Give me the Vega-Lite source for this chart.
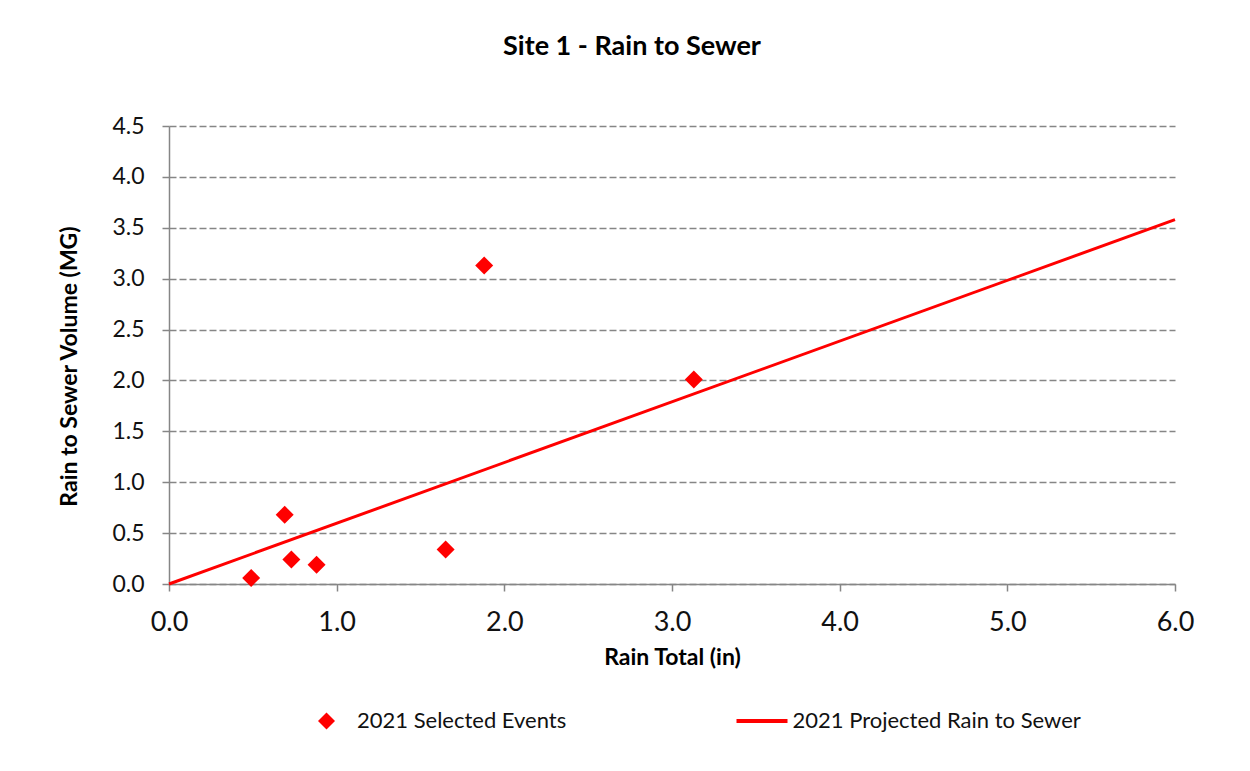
{
  "$schema": "https://vega.github.io/schema/vega-lite/v6.json",
  "width": 1006,
  "height": 458,
  "autosize": {"type": "none"},
  "padding": {"left": 169, "top": 126, "right": 75, "bottom": 187},
  "background": "white",
  "title": {
    "text": "Site 1 - Rain to Sewer",
    "font": "Lato",
    "fontSize": 27,
    "fontWeight": "bold",
    "color": "#000000",
    "anchor": "middle",
    "dx": -40,
    "offset": 54
  },
  "config": {
    "view": {"stroke": null},
    "font": "Lato",
    "axis": {
      "domainColor": "#868686",
      "domainWidth": 1.5,
      "tickColor": "#868686",
      "tickWidth": 1.5,
      "tickSize": 7,
      "labelColor": "#111111",
      "titleColor": "#000000",
      "labelFont": "Lato",
      "titleFont": "Lato",
      "titleFontWeight": "bold"
    }
  },
  "layer": [
    {
      "data": {
        "values": [
          {"rain": 0.0, "volume": 0.0},
          {"rain": 6.0, "volume": 3.58}
        ]
      },
      "mark": {"type": "line", "color": "#ff0000", "strokeWidth": 3, "clip": false},
      "encoding": {
        "x": {
          "field": "rain",
          "type": "quantitative",
          "scale": {"domain": [0, 6], "nice": false, "zero": true},
          "axis": {
            "title": "Rain Total (in)",
            "values": [0, 1, 2, 3, 4, 5, 6],
            "format": ".1f",
            "grid": false,
            "labelFlush": false,
            "labelFontSize": 27,
            "labelPadding": 18,
            "titleFontSize": 23,
            "titlePadding": 11
          }
        },
        "y": {
          "field": "volume",
          "type": "quantitative",
          "scale": {"domain": [0, 4.5], "nice": false},
          "axis": {
            "title": "Rain to Sewer Volume (MG)",
            "values": [0, 0.5, 1, 1.5, 2, 2.5, 3, 3.5, 4, 4.5],
            "format": ".1f",
            "grid": true,
            "gridColor": "#868686",
            "gridDash": [7, 3],
            "gridWidth": 1.5,
            "labelFontSize": 23,
            "labelPadding": 18,
            "titleFontSize": 23,
            "titleX": -100,
            "titleY": 240,
            "titleBaseline": "middle"
          }
        }
      }
    },
    {
      "data": {
        "values": [
          {"rain": 0.49, "volume": 0.06, "series": "2021 Selected Events"},
          {"rain": 0.69, "volume": 0.68, "series": "2021 Selected Events"},
          {"rain": 0.73, "volume": 0.24, "series": "2021 Selected Events"},
          {"rain": 0.88, "volume": 0.19, "series": "2021 Selected Events"},
          {"rain": 1.65, "volume": 0.34, "series": "2021 Selected Events"},
          {"rain": 1.88, "volume": 3.13, "series": "2021 Selected Events"},
          {"rain": 3.13, "volume": 2.01, "series": "2021 Selected Events"}
        ]
      },
      "mark": {"type": "point", "filled": true, "color": "#ff0000", "opacity": 1, "size": 324},
      "encoding": {
        "x": {"field": "rain", "type": "quantitative"},
        "y": {"field": "volume", "type": "quantitative"},
        "shape": {
          "field": "series",
          "type": "nominal",
          "scale": {
            "domain": ["2021 Selected Events", "2021 Projected Rain to Sewer"],
            "range": ["M0,-1L1,0L0,1L-1,0Z", "M-3,-0.235L3,-0.235L3,0.235L-3,0.235Z"]
          },
          "legend": {
            "title": null,
            "orient": "none",
            "direction": "horizontal",
            "legendX": 146.5,
            "legendY": 584,
            "padding": 0,
            "symbolSize": 289,
            "symbolFillColor": "#ff0000",
            "symbolStrokeColor": "#ff0000",
            "symbolStrokeWidth": 0,
            "symbolOpacity": 1,
            "labelFont": "Lato",
            "labelFontSize": 22,
            "labelColor": "#111111",
            "labelLimit": 0,
            "labelOffset": 19.5,
            "columnPadding": 169.5,
            "encode": {
              "symbols": {
                "update": {
                  "fill": {"value": "#ff0000"},
                  "opacity": {"value": 1}
                }
              }
            }
          }
        }
      }
    }
  ]
}
